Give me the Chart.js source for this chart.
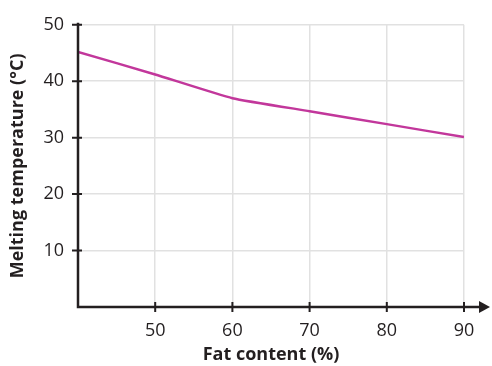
<!DOCTYPE html>
<html>
<head>
<meta charset="utf-8">
<script src="https://cdn.jsdelivr.net/npm/chart.js@4"></script>
<style>
  html, body { margin: 0; padding: 0; background: #ffffff; }
  #wrap { width: 492px; height: 366px; }
</style>
</head>
<body>
<div id="wrap"><canvas id="c" width="492" height="366"></canvas></div>
<script>
// Fat content (%) and the matching melting temperature (°C)
const fatContent = [40, 50, 60, 70, 80, 90];
const meltingTemp = [45.2, 41.2, 37.0, 34.7, 32.4, 30.1];
const xTicks = [50, 60, 70, 80, 90];
const yTicks = [10, 20, 30, 40, 50];

const INK = '#231f20';
const LINE = '#c2379b';
const GRID = '#e1e1e1';

// Axis lines, crossing tick marks and the arrow head on the x axis
const axesPlugin = {
  id: 'axesPlugin',
  afterDatasetsDraw(chart) {
    const { ctx, scales: { x, y } } = chart;
    const x0 = x.getPixelForValue(40);
    const y0 = y.getPixelForValue(0);
    const yTop = y.getPixelForValue(50);
    const xEnd = chart.width - 2;
    ctx.save();
    ctx.strokeStyle = INK;
    ctx.fillStyle = INK;
    ctx.lineWidth = 2.5;
    ctx.lineCap = 'butt';
    ctx.beginPath();
    ctx.moveTo(x0, yTop - 2);
    ctx.lineTo(x0, y0 + 1.25);
    ctx.moveTo(x0 - 1.25, y0);
    ctx.lineTo(xEnd - 8, y0);
    ctx.stroke();
    // arrow head
    ctx.beginPath();
    ctx.moveTo(xEnd, y0);
    ctx.lineTo(xEnd - 11, y0 - 6);
    ctx.lineTo(xEnd - 11, y0 + 6);
    ctx.closePath();
    ctx.fill();
    // tick marks
    ctx.lineWidth = 2;
    ctx.beginPath();
    xTicks.forEach(v => {
      const px = x.getPixelForValue(v);
      ctx.moveTo(px, y0 - 5);
      ctx.lineTo(px, y0 + 5);
    });
    yTicks.forEach(v => {
      const py = y.getPixelForValue(v);
      ctx.moveTo(x0 - 6, py);
      ctx.lineTo(x0 + 4, py);
    });
    ctx.stroke();
    ctx.restore();
  }
};

new Chart(document.getElementById('c'), {
  type: 'line',
  data: {
    datasets: [{
      data: fatContent.map((v, i) => ({ x: v, y: meltingTemp[i] })),
      borderColor: LINE,
      borderWidth: 2.5,
      pointRadius: 0,
      tension: 0.15,
      fill: false
    }]
  },
  options: {
    responsive: false,
    animation: false,
    devicePixelRatio: 1,
    layout: { padding: { top: 22, right: 28, left: 0, bottom: 0 } },
    plugins: { legend: { display: false }, tooltip: { enabled: false } },
    scales: {
      x: {
        type: 'linear',
        min: 40,
        max: 90,
        afterBuildTicks(scale) { scale.ticks = xTicks.map(v => ({ value: v })); },
        afterFit(scale) { scale.height = 59; },
        border: { display: false },
        grid: { color: GRID, lineWidth: 1.5, drawTicks: false },
        ticks: { color: INK, padding: 13, font: { family: 'Open Sans', size: 18 } },
        title: {
          display: true,
          text: 'Fat content (%)',
          color: INK,
          padding: { top: 0, bottom: 0 },
          font: { family: 'Open Sans', size: 18, weight: 'bold' }
        }
      },
      y: {
        type: 'linear',
        min: 0,
        max: 50,
        afterBuildTicks(scale) { scale.ticks = yTicks.map(v => ({ value: v })); },
        afterFit(scale) { scale.width = 78; },
        border: { display: false },
        grid: { color: GRID, lineWidth: 1.5, drawTicks: false },
        ticks: { color: INK, padding: 14, font: { family: 'Open Sans', size: 18 } },
        title: {
          display: true,
          text: 'Melting temperature (°C)',
          color: INK,
          padding: { top: 7, bottom: 0 },
          font: { family: 'Open Sans', size: 18, weight: 'bold' }
        }
      }
    }
  },
  plugins: [axesPlugin]
});
</script>
</body>
</html>
